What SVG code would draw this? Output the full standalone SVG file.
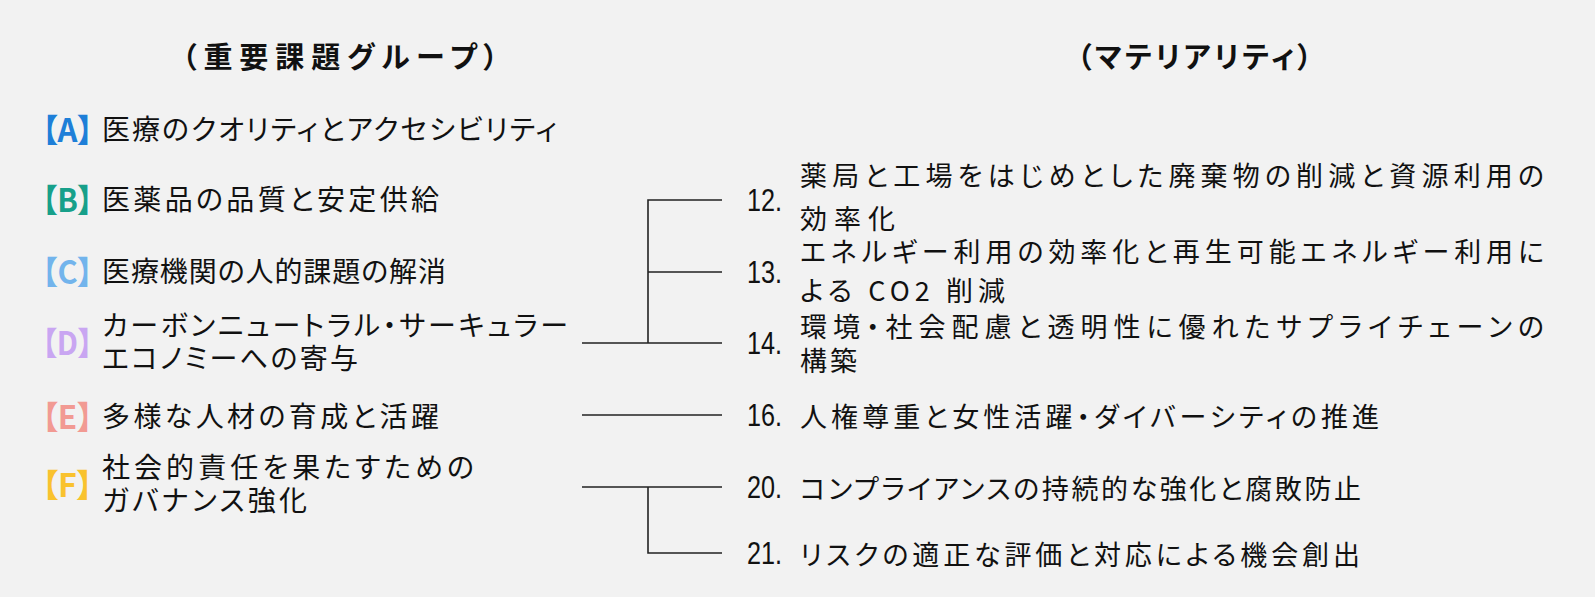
<svg xmlns="http://www.w3.org/2000/svg" width="1595" height="597" viewBox="0 0 1595 597">
<style>
.bg{fill:#f2f2f2}
text{font-family:"Noto Sans CJK JP","Noto Sans",sans-serif;fill:#111;dominant-baseline:central;font-feature-settings:"palt"}
.title{font-size:29px;font-weight:700}
.lt{font-size:28px}
.rt{font-size:27px}
.num{font-family:"Liberation Sans",Arial,sans-serif;font-size:32px;font-feature-settings:normal}
.br{font-size:32px;font-weight:700}
.conn{stroke:#222;stroke-width:1.6;fill:none}
</style>
<rect class="bg" x="0" y="0" width="1595" height="597"/>
<g id="titles">
<text class="title" x="182" y="55" textLength="316" lengthAdjust="spacing">（重要課題グループ）</text>
<text class="title" x="1077" y="55" textLength="235" lengthAdjust="spacing">（マテリアリティ）</text>
</g>
<g id="group-A">
<text class="br" x="42" y="128" textLength="51" lengthAdjust="spacingAndGlyphs" style="fill:#1e7fd8">【A】</text>
<text class="lt" x="102" y="128" textLength="455" lengthAdjust="spacing">医療のクオリティとアクセシビリティ</text>
</g>
<g id="group-B">
<text class="br" x="42" y="198" textLength="51" lengthAdjust="spacingAndGlyphs" style="fill:#17a08a">【B】</text>
<text class="lt" x="102" y="198" textLength="337" lengthAdjust="spacing">医薬品の品質と安定供給</text>
</g>
<g id="group-C">
<text class="br" x="42" y="270" textLength="51" lengthAdjust="spacingAndGlyphs" style="fill:#72b4ec">【C】</text>
<text class="lt" x="102" y="270" textLength="344" lengthAdjust="spacing">医療機関の人的課題の解消</text>
</g>
<g id="group-D">
<text class="br" x="42" y="341" textLength="51" lengthAdjust="spacingAndGlyphs" style="fill:#c9a6f2">【D】</text>
<text class="lt" x="102" y="324" textLength="466" lengthAdjust="spacing">カーボンニュートラル・サーキュラー</text>
<text class="lt" x="102" y="357" textLength="256" lengthAdjust="spacing">エコノミーへの寄与</text>
</g>
<g id="group-E">
<text class="br" x="42" y="415" textLength="51" lengthAdjust="spacingAndGlyphs" style="fill:#f29a93">【E】</text>
<text class="lt" x="102" y="415" textLength="337" lengthAdjust="spacing">多様な人材の育成と活躍</text>
</g>
<g id="group-F">
<text class="br" x="42" y="483" textLength="51" lengthAdjust="spacingAndGlyphs" style="fill:#f9c22e">【F】</text>
<text class="lt" x="102" y="466" textLength="372" lengthAdjust="spacing">社会的責任を果たすための</text>
<text class="lt" x="102" y="499" textLength="205" lengthAdjust="spacing">ガバナンス強化</text>
</g>
<g id="connectors">
<path class="conn" d="M582,343 H722 M648,343 V200 H722 M648,272 H722"/>
<path class="conn" d="M582,415 H722"/>
<path class="conn" d="M582,487 H722 M648,487 V553 H722"/>
</g>
<g id="m12">
<text class="num" x="747" y="200" textLength="35" lengthAdjust="spacingAndGlyphs">12.</text>
<text class="rt" x="800" y="174" textLength="744" lengthAdjust="spacing">薬局と工場をはじめとした廃棄物の削減と資源利用の</text>
<text class="rt" x="800" y="217" textLength="95" lengthAdjust="spacing">効率化</text>
</g>
<g id="m13">
<text class="num" x="747" y="272" textLength="35" lengthAdjust="spacingAndGlyphs">13.</text>
<text class="rt" x="800" y="250" textLength="744" lengthAdjust="spacing">エネルギー利用の効率化と再生可能エネルギー利用に</text>
<text class="rt" x="800" y="289" textLength="205" lengthAdjust="spacing">よる CO2 削減</text>
</g>
<g id="m14">
<text class="num" x="747" y="343" textLength="35" lengthAdjust="spacingAndGlyphs">14.</text>
<text class="rt" x="800" y="325" textLength="744" lengthAdjust="spacing">環境・社会配慮と透明性に優れたサプライチェーンの</text>
<text class="rt" x="800" y="359" textLength="57" lengthAdjust="spacing">構築</text>
</g>
<g id="m16">
<text class="num" x="747" y="415" textLength="35" lengthAdjust="spacingAndGlyphs">16.</text>
<text class="rt" x="800" y="415" textLength="579" lengthAdjust="spacing">人権尊重と女性活躍・ダイバーシティの推進</text>
</g>
<g id="m20">
<text class="num" x="747" y="487" textLength="35" lengthAdjust="spacingAndGlyphs">20.</text>
<text class="rt" x="800" y="487" textLength="561" lengthAdjust="spacing">コンプライアンスの持続的な強化と腐敗防止</text>
</g>
<g id="m21">
<text class="num" x="747" y="553" textLength="35" lengthAdjust="spacingAndGlyphs">21.</text>
<text class="rt" x="800" y="553" textLength="560" lengthAdjust="spacing">リスクの適正な評価と対応による機会創出</text>
</g>
</svg>
